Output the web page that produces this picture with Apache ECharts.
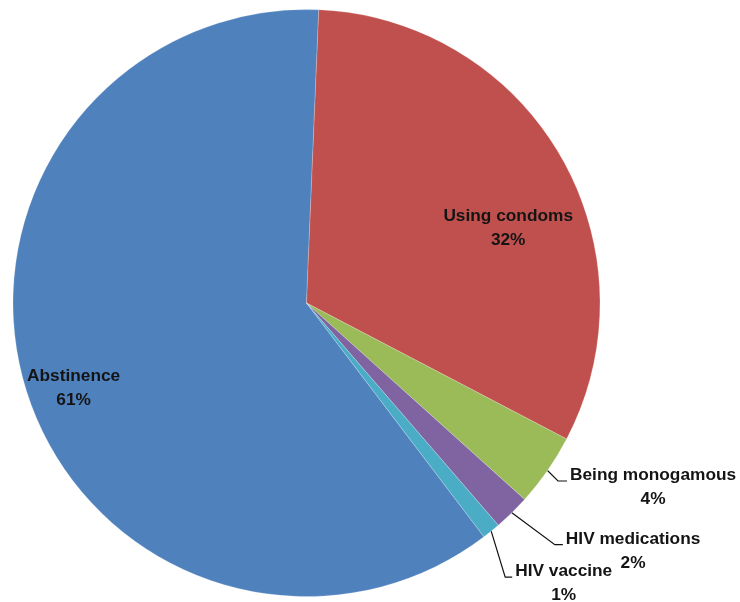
<!DOCTYPE html>
<html>
<head>
<meta charset="utf-8">
<script src="https://cdn.jsdelivr.net/npm/echarts@6/dist/echarts.min.js"></script>
<style>
  html, body { margin: 0; padding: 0; background: #ffffff; }
  #chart { width: 740px; height: 602px; }
</style>
</head>
<body>
<div id="chart"></div>
<script>
// Ways to prevent HIV transmission, share of answers
const categories = ['Abstinence', 'Using condoms', 'Being monogamous', 'HIV medications', 'HIV vaccine'];
const shares = [61, 32, 4, 2, 1];
const sliceColors = ['#4F81BD', '#C0504D', '#9BBB59', '#8064A2', '#4BACC6'];

// Label placement: inside labels are nudged from their default spot,
// outside labels get an elbow leader (bend offset from the rim, then a horizontal run).
const labelPlacement = [
  { inside: true, dx: -90, dy: 40 },
  { inside: true, dx: 72, dy: 0 },
  { bend: [10.5, 10.5], run: 9 },
  { bend: [43, 32], run: 8 },
  { bend: [14, 46], run: 7 }
];

const chart = echarts.init(document.getElementById('chart'), null, { renderer: 'canvas' });

chart.setOption({
  animation: false,
  backgroundColor: '#ffffff',
  series: [{
    type: 'pie',
    center: [306.5, 303],
    radius: 293.5,
    startAngle: -52.8,
    clockwise: true,
    avoidLabelOverlap: false,
    itemStyle: { borderColor: 'rgba(255,255,255,0.35)', borderWidth: 0.6 },
    label: {
      show: true,
      fontFamily: 'Liberation Sans',
      fontWeight: 'bold',
      fontSize: 17.3,
      lineHeight: 24,
      color: '#141414',
      formatter: p => p.name + '\n' + p.value + '%'
    },
    labelLine: {
      show: true,
      length: 10,
      length2: 8,
      smooth: false,
      lineStyle: { color: '#111111', width: 1.2 }
    },
    emphasis: { disabled: true },
    data: categories.map((name, i) => ({
      name: name,
      value: shares[i],
      itemStyle: { color: sliceColors[i] },
      label: { position: labelPlacement[i].inside ? 'inside' : 'outside' },
      labelLine: { show: !labelPlacement[i].inside }
    })),
    labelLayout: function (p) {
      const cfg = labelPlacement[p.dataIndex];
      const r = p.labelRect;
      if (cfg.inside) {
        return {
          x: r.x + r.width / 2 + cfg.dx,
          y: r.y + r.height / 2 + cfg.dy,
          align: 'center',
          verticalAlign: 'middle'
        };
      }
      const p0 = p.labelLinePoints[0].slice();
      const p1 = [p0[0] + cfg.bend[0], p0[1] + cfg.bend[1]];
      const p2 = [p1[0] + cfg.run, p1[1]];
      return {
        x: p2[0] + 3 + r.width / 2,
        y: p2[1] + 6.5,
        align: 'center',
        verticalAlign: 'middle',
        labelLinePoints: [p0, p1, p2]
      };
    }
  }]
});
</script>
</body>
</html>
